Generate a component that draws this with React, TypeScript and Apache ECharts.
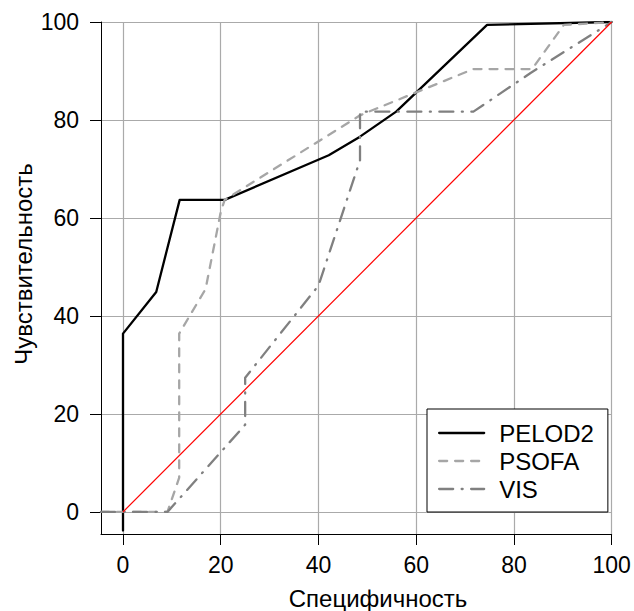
import React, { useEffect, useRef } from "react";
import * as echarts from "echarts";

const FONT = "'Liberation Sans', Arial, sans-serif";

const xTicks = [0, 20, 40, 60, 80, 100];
const yTicks = [0, 20, 40, 60, 80, 100];

const seriesNames = ["PELOD2", "PSOFA", "VIS"];

const pelodX = [0, 0, 6.8, 11.6, 20.8, 42.1, 48.5, 55.9, 74.5, 100];
const pelodY = [-3.8, 36.4, 44.9, 63.7, 63.7, 72.8, 76.6, 81.7, 99.4, 100];

const psofaX = [-4.5, 9.1, 11.5, 11.5, 16.9, 20.0, 20.8, 48.6, 71.7, 83.7, 90.2, 100];
const psofaY = [0, 0, 7, 36.4, 45.5, 61.2, 63.7, 81.0, 90.4, 90.4, 99.4, 100];

const visX = [-4.5, 9.1, 25.0, 25.0, 40.0, 48.5, 48.5, 71.7, 83.4, 100];
const visY = [0, 0, 17.8, 27.4, 46.2, 71.8, 81.7, 81.7, 89.6, 100];

const refX = [0, 100];
const refY = [0, 100];

const zip = (xs: number[], ys: number[]) => xs.map((x, i) => [x, ys[i]]);

export default function App() {
  const ref = useRef<HTMLDivElement>(null);
  useEffect(() => {
    if (!ref.current) return;
    const chart = echarts.init(ref.current, null, { renderer: "svg" });
    const axisCommon = {
      type: "value" as const,
      min: -4.5,
      max: 100,
      axisLine: { show: true, onZero: false, lineStyle: { color: "#000", width: 1 } },
      splitLine: { show: true, lineStyle: { color: "#aaaaaa", width: 1.2 } },
    };
    chart.setOption({
      animation: false,
      backgroundColor: "#fff",
      grid: { left: 101, right: 22.3, top: 22, bottom: 77, containLabel: false, outerBoundsMode: "none" },
      xAxis: {
        ...axisCommon,
        axisTick: { show: true, length: 11, customValues: xTicks, lineStyle: { color: "#000", width: 1 } },
        axisLabel: { customValues: xTicks, margin: 19, fontSize: 23, color: "#000", fontFamily: FONT },
      },
      yAxis: {
        ...axisCommon,
        axisTick: { show: true, length: 11, customValues: yTicks, lineStyle: { color: "#000", width: 1 } },
        axisLabel: { customValues: yTicks, margin: 22, fontSize: 23, color: "#000", fontFamily: FONT },
      },
      legend: {
        data: seriesNames,
        orient: "vertical",
        left: 427,
        top: 409,
        itemWidth: 45,
        itemHeight: 14,
        itemGap: 0,
        padding: [10, 14, 9, 11],
        backgroundColor: "#fff",
        borderColor: "#000",
        borderWidth: 1,
        selectedMode: false,
        textStyle: { fontSize: 24, color: "#000", fontFamily: FONT, lineHeight: 28, padding: [0, 0, 0, 10] },
        lineStyle: { width: 2.3 },
        itemStyle: { opacity: 0 },
      },
      graphic: [
        {
          type: "text",
          x: 378,
          y: 598,
          style: { text: "Специфичность", fontSize: 24, fontFamily: FONT, fill: "#000", textAlign: "center", textVerticalAlign: "middle" },
        },
        {
          type: "text",
          x: 23,
          y: 264,
          rotation: Math.PI / 2,
          style: { text: "Чувствительность", fontSize: 24, fontFamily: FONT, fill: "#000", textAlign: "center", textVerticalAlign: "middle" },
        },
      ],
      series: [
        {
          name: "PELOD2",
          type: "line",
          symbol: "none",
          data: zip(pelodX, pelodY),
          lineStyle: { color: "#000", width: 2.3, cap: "round", join: "round" },
          itemStyle: { color: "#000" },
        },
        {
          name: "PSOFA",
          type: "line",
          symbol: "none",
          data: zip(psofaX, psofaY),
          lineStyle: { color: "#a6a6a6", width: 2.3, type: [8, 8], cap: "round", join: "round" },
          itemStyle: { color: "#a6a6a6" },
        },
        {
          name: "VIS",
          type: "line",
          symbol: "none",
          data: zip(visX, visY),
          lineStyle: { color: "#808080", width: 2.3, type: [14, 8.5, 1, 8.5], cap: "round", join: "round" },
          itemStyle: { color: "#808080" },
        },
        {
          name: "ref",
          type: "line",
          symbol: "none",
          data: zip(refX, refY),
          lineStyle: { color: "#ff0000", width: 1.2 },
          itemStyle: { color: "#ff0000" },
        },
      ],
    });
    return () => chart.dispose();
  }, []);
  return (
    <div
      ref={ref}
      style={{ position: "fixed", left: 0, top: 0, width: 634, height: 611, background: "#fff" }}
    />
  );
}
